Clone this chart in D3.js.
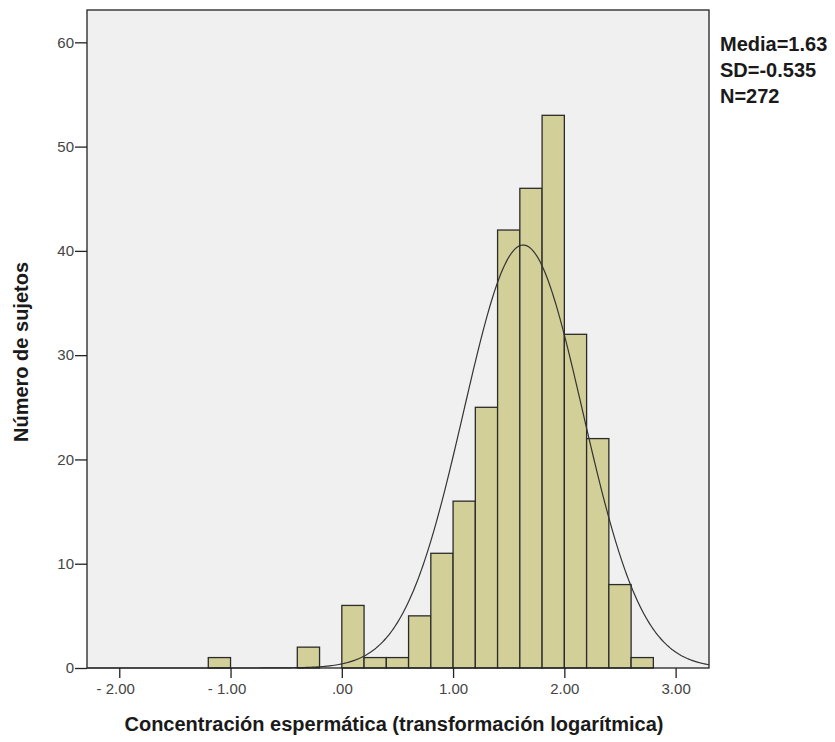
<!DOCTYPE html>
<html>
<head>
<meta charset="utf-8">
<script src="https://cdn.jsdelivr.net/npm/d3@7/dist/d3.min.js"></script>
<style>
  body { margin: 0; background: #fff; }
  svg text { font-family: "Liberation Sans", Arial, sans-serif; }
</style>
</head>
<body>
<svg id="chart" width="835" height="742"></svg>
<script>
// Histogram bins (lower edge, width 0.2) and subject counts
const binStarts = [-1.2, -0.4, 0.0, 0.2, 0.4, 0.6, 0.8, 1.0, 1.2, 1.4, 1.6, 1.8, 2.0, 2.2, 2.4, 2.6];
const counts    = [1, 2, 6, 1, 1, 5, 11, 16, 25, 42, 46, 53, 32, 22, 8, 1];
const binWidth = 0.2;

const xTicks = [-2, -1, 0, 1, 2, 3];
const xTickLabels = ["- 2.00", "- 1.00", ".00", "1.00", "2.00", "3.00"];
const yTicks = [0, 10, 20, 30, 40, 50, 60];

const mean = 1.63, sd = 0.535, n = 272;
const statLines = ["Media=1.63", "SD=-0.535", "N=272"];

const svg = d3.select("#chart");
const plotL = 87, plotR = 709, plotT = 10, plotB = 668;

const x = d3.scaleLinear().domain([-2.29, 3.30]).range([plotL, plotR]);
const y = d3.scaleLinear().domain([0, 63.1]).range([plotB, plotT]);

// plot background
svg.append("rect")
  .attr("x", plotL).attr("y", plotT)
  .attr("width", plotR - plotL).attr("height", plotB - plotT)
  .attr("fill", "#f0f0f0");

// bars
svg.append("g").selectAll("rect")
  .data(binStarts.map((b, i) => ({ b, c: counts[i] })))
  .join("rect")
  .attr("x", d => x(d.b))
  .attr("width", d => x(d.b + binWidth) - x(d.b))
  .attr("y", d => y(d.c))
  .attr("height", d => y(0) - y(d.c))
  .attr("fill", "#d3cf98")
  .attr("stroke", "#2b2b2b")
  .attr("stroke-width", 1.3);

// fitted normal curve
const scale = n * binWidth / (sd * Math.sqrt(2 * Math.PI));
const [xMin, xMax] = x.domain();
const curvePts = d3.range(0, 401).map(i => {
  const v = xMin + (xMax - xMin) * i / 400;
  const z = (v - mean) / sd;
  return [v, scale * Math.exp(-0.5 * z * z)];
});
svg.append("path")
  .datum(curvePts)
  .attr("fill", "none")
  .attr("stroke", "#333")
  .attr("stroke-width", 1.2)
  .attr("d", d3.line().x(d => x(d[0])).y(d => y(d[1])));

// frame
svg.append("rect")
  .attr("x", plotL).attr("y", plotT)
  .attr("width", plotR - plotL).attr("height", plotB - plotT)
  .attr("fill", "none").attr("stroke", "#222").attr("stroke-width", 1.3);

// axes
const xAxis = d3.axisBottom(x).tickValues(xTicks)
  .tickFormat((d, i) => xTickLabels[i]).tickSize(10).tickPadding(4);
const gx = svg.append("g").attr("transform", `translate(0,${plotB})`).call(xAxis);
gx.select(".domain").remove();
gx.selectAll("line").attr("stroke", "#222").attr("stroke-width", 1.3);
gx.selectAll("text")
  .attr("font-size", 15).attr("fill", "#444")
  .attr("font-family", "'Liberation Sans', Arial, sans-serif")
  .attr("y", 26).attr("dy", null)
  .attr("dx", (d) => d < 0 ? -4 : 0);

const yAxis = d3.axisLeft(y).tickValues(yTicks).tickSize(12).tickPadding(1);
const gy = svg.append("g").attr("transform", `translate(${plotL},0)`).call(yAxis);
gy.select(".domain").remove();
gy.selectAll("line").attr("stroke", "#222").attr("stroke-width", 1.3);
gy.selectAll("text").attr("font-size", 15).attr("fill", "#444")
  .attr("font-family", "'Liberation Sans', Arial, sans-serif");

// axis titles
svg.append("text")
  .attr("x", 394).attr("y", 731)
  .attr("text-anchor", "middle")
  .attr("font-size", 20).attr("font-weight", "bold").attr("fill", "#1a1a1a")
  .text("Concentración espermática (transformación logarítmica)");

svg.append("text")
  .attr("transform", "translate(28,352) rotate(-90)")
  .attr("text-anchor", "middle")
  .attr("font-size", 20).attr("font-weight", "bold").attr("fill", "#1a1a1a")
  .text("Número de sujetos");

// summary statistics
svg.append("g").selectAll("text")
  .data(statLines)
  .join("text")
  .attr("x", 720)
  .attr("y", (d, i) => 51 + i * 26)
  .attr("font-size", 20).attr("font-weight", "bold").attr("fill", "#1a1a1a")
  .text(d => d);
</script>
</body>
</html>
